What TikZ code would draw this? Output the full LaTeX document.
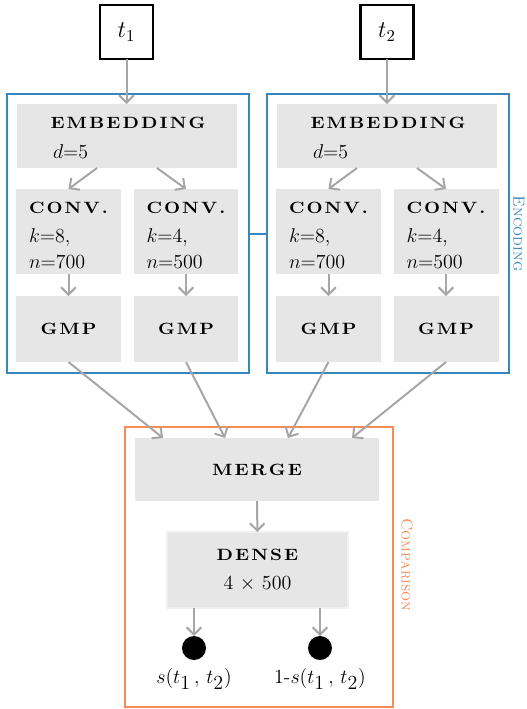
\documentclass[tikz,border=0pt]{standalone}
\usepackage{graphicx}
\usetikzlibrary{arrows.meta,calc}
\definecolor{boxgray}{RGB}{230,230,230}
\definecolor{edgegray}{RGB}{240,240,240}
\definecolor{arrgray}{RGB}{166,166,166}
\definecolor{encblue}{RGB}{55,135,190}
\definecolor{cmporange}{RGB}{247,140,85}
\makeatletter
\newcommand\spcaps[1]{{\bfseries\fontsize{9.8}{11.5}\selectfont\scalebox{1.14}[1]{\spc@loop#1\@nil\kern-1.1pt}}}
\def\spc@loop#1{\ifx#1\@nil\else#1\kern1.1pt\expandafter\spc@loop\fi}
\makeatother
\newcommand\simlbl{s(t_{\textstyle 1}\,,\, t_{\textstyle 2})}
\begin{document}
\begin{tikzpicture}[x=0.6pt,y=-0.6pt,
  gbox/.style={fill=boxgray, draw=none, inner sep=0pt, outer sep=0pt},
  convbox/.style={gbox, minimum width=63pt, minimum height=51pt},
  gmpbox/.style={gbox, minimum width=63pt, minimum height=39.6pt},
  embbox/.style={gbox, minimum width=132pt, minimum height=38.4pt},
  tbox/.style={draw=black, line width=1.4pt, minimum width=31.8pt, minimum height=32.4pt, inner sep=0pt, outer sep=0pt},
  encbox/.style={draw=encblue, line width=1.2pt, minimum width=145.2pt, minimum height=167.4pt, inner sep=0pt, outer sep=0pt},
  cmpbox/.style={draw=cmporange, line width=1.2pt, minimum width=160.8pt, minimum height=168pt, inner sep=0pt, outer sep=0pt},
  arr/.style={draw=arrgray, line width=1.2pt, -{Straight Barb[length=4.4pt,width=8.8pt]}},
  lbl/.style={inner sep=0pt, outer sep=0pt, font=\fontsize{12}{14.5}\selectfont},
  sidelbl/.style={rotate=-90, font=\fontsize{9.5}{11}\selectfont},
  dot/.style={circle, fill=black, minimum size=14.4pt, inner sep=0pt, outer sep=0pt}]
\useasboundingbox (0,0) rectangle (527,709);

% encoding frames
\node[encbox] (enc1) at (128,233.5) {};
\node[encbox] (enc2) at (388,233.5) {};
\draw[encblue, line width=1.2pt] (enc1.east) -- (enc2.west);
\node[sidelbl, text=encblue] (enclbl) at (519,233.5) {\textsc{Encoding}};

% inputs
\node[tbox] (t1) at (126.5,32) {\Large $t_1$};
\node[tbox] (t2) at (387,32) {\Large $t_2$};

% left encoder
\node[embbox] (emb1) at (127,136) {};
\node[lbl, anchor=base] (emb1t) at ($(emb1.center)+(1,-8)$) {\spcaps{EMBEDDING}};
\node[lbl, anchor=base west] (emb1d) at ($(emb1.center)+(-74,22)$) {$d{=}5$};
\node[convbox] (c11) at (68.5,231.5) {};
\node[convbox] (c12) at (186,231.5) {};
\node[lbl, anchor=north west, align=left] (c11t) at ($(c11.north west)+(13,13)$) {\spcaps{CONV.}\\[2.8pt]$k{=}8$,\\[1pt]$n{=}700$};
\node[lbl, anchor=north west, align=left] (c12t) at ($(c12.north west)+(13,13)$) {\spcaps{CONV.}\\[2.8pt]$k{=}4$,\\[1pt]$n{=}500$};
\node[gmpbox] (g11) at (68.5,329) {\spcaps{GMP}};
\node[gmpbox] (g12) at (186,329) {\spcaps{GMP}};

% right encoder
\node[embbox] (emb2) at (387,136) {};
\node[lbl, anchor=base] (emb2t) at ($(emb2.center)+(1,-8)$) {\spcaps{EMBEDDING}};
\node[lbl, anchor=base west] (emb2d) at ($(emb2.center)+(-74,22)$) {$d{=}5$};
\node[convbox] (c21) at (328.5,231.5) {};
\node[convbox] (c22) at (446,231.5) {};
\node[lbl, anchor=north west, align=left] (c21t) at ($(c21.north west)+(13,13)$) {\spcaps{CONV.}\\[2.8pt]$k{=}8$,\\[1pt]$n{=}700$};
\node[lbl, anchor=north west, align=left] (c22t) at ($(c22.north west)+(13,13)$) {\spcaps{CONV.}\\[2.8pt]$k{=}4$,\\[1pt]$n{=}500$};
\node[gmpbox] (g21) at (328.5,329) {\spcaps{GMP}};
\node[gmpbox] (g22) at (446,329) {\spcaps{GMP}};

% comparison
\node[cmpbox] (cmp) at (259,567) {};
\node[sidelbl, text=cmporange] (cmplbl) at (407,565) {\textsc{Comparison}};
\node[gbox, minimum width=146.4pt, minimum height=37.8pt] (merge) at (257,469.5) {\spcaps{MERGE}};
\node[gbox, draw=edgegray, line width=1.2pt, minimum width=108.6pt, minimum height=45.6pt, align=center, font=\fontsize{12}{14.5}\selectfont] (dense) at (257.5,570) {\spcaps{DENSE}\\[2.9pt]4 $\times$ 500};
\node[dot] (o1) at (194,648) {};
\node[dot] (o2) at (320,648) {};
\node[lbl] (s1) at (194,679) {$\simlbl$};
\node[lbl] (s2) at (320,679) {1-$\simlbl$};

% arrows
\draw[arr] (t1.south) -- (t1.south |- emb1.north);
\draw[arr] (t2.south) -- (t2.south |- emb2.north);
\draw[arr] ($(emb1.south)+(-30,0)$) -- (c11.north);
\draw[arr] ($(emb1.south)+(30,0)$) -- (c12.north);
\draw[arr] ($(emb2.south)+(-30,0)$) -- (c21.north);
\draw[arr] ($(emb2.south)+(30,0)$) -- (c22.north);
\draw[arr] (c11) -- (g11);
\draw[arr] (c12) -- (g12);
\draw[arr] (c21) -- (g21);
\draw[arr] (c22) -- (g22);
\draw[arr] (g11.south) -- ($(merge.north)+(-94,0)$);
\draw[arr] (g12.south) -- ($(merge.north)+(-32,0)$);
\draw[arr] (g21.south) -- ($(merge.north)+(31,0)$);
\draw[arr] (g22.south) -- ($(merge.north)+(95,0)$);
\draw[arr] (merge) -- (dense);
\draw[arr] (dense.south -| o1) -- (o1);
\draw[arr] (dense.south -| o2) -- (o2);
\end{tikzpicture}
\end{document}
